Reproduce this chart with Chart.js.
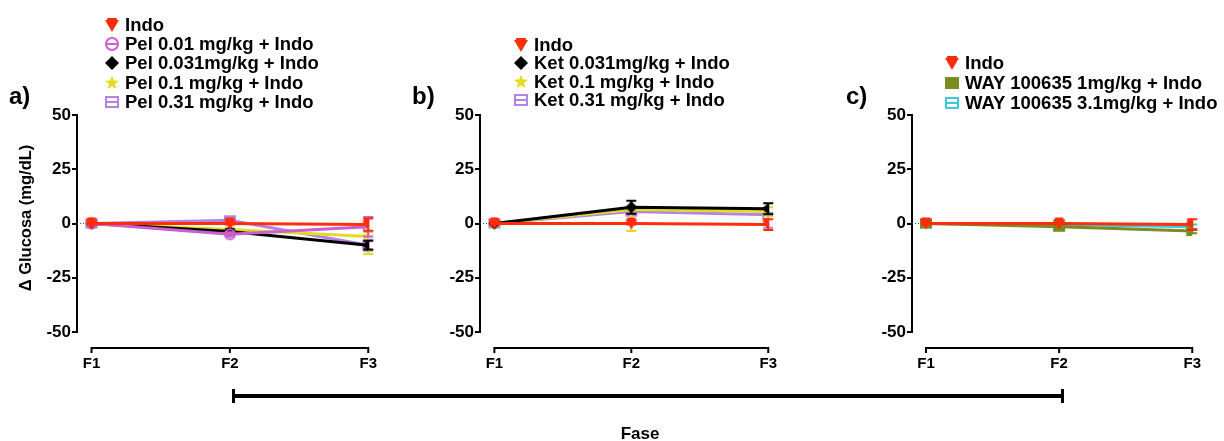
<!DOCTYPE html>
<html>
<head>
<meta charset="utf-8">
<script src="https://cdn.jsdelivr.net/npm/chart.js@4"></script>
<style>
  body { margin: 0; background: #fff; font-family: "Liberation Sans", Arial, Helvetica, sans-serif; }
  #wrap { position: relative; width: 1224px; height: 441px; overflow: hidden; }
  canvas.panel { position: absolute; top: 0; }
  .lbl { position: absolute; font-weight: bold; color: #000; white-space: nowrap; }
  .legend { position: absolute; font-weight: bold; font-size: 18.5px; color: #000; }
  .legend .row { display: flex; align-items: center; white-space: nowrap; }
  .legend canvas { margin-right: 5px; }
</style>
</head>
<body>
<div id="wrap">
  <canvas id="chartA" class="panel" width="400" height="441" style="left:0px"></canvas>
  <canvas id="chartB" class="panel" width="400" height="441" style="left:400px"></canvas>
  <canvas id="chartC" class="panel" width="400" height="441" style="left:824px"></canvas>

  <div class="lbl" style="left:9px; top:82px; font-size:24px;">a)</div>
  <div class="lbl" style="left:412px; top:82px; font-size:24px;">b)</div>
  <div class="lbl" style="left:846px; top:82px; font-size:24px;">c)</div>

  <div class="lbl" style="left:25px; top:218px; font-size:16.5px; transform: translate(-50%, -50%) rotate(-90deg);">&Delta; Glucosa (mg/dL)</div>

  <div style="position:absolute; left:233px; top:394px; width:830px; border-top:4px solid #000;"></div>
  <div style="position:absolute; left:232px; top:389px; width:3px; height:14px; background:#000;"></div>
  <div style="position:absolute; left:1061px; top:389px; width:3px; height:14px; background:#000;"></div>
  <div class="lbl" style="left:640px; top:434px; font-size:17px; font-family:'Liberation Sans Narrow', 'Liberation Sans', Arial, sans-serif; transform: translate(-50%, -50%);">Fase</div>
</div>

<script>
const phases = ['F1', 'F2', 'F3'];

// a) Pel   (errors: [below, above])
const labelsA = ['Indo', 'Pel 0.01 mg/kg + Indo', 'Pel 0.031mg/kg + Indo', 'Pel 0.1 mg/kg + Indo', 'Pel 0.31 mg/kg + Indo'];
const indoA = [0, 0, -0.5];
const indoA_err = [[0.5, 0.5], [0.5, 0.5], [2.8, 2.8]];
const pel001 = [0, -5, -1.5];
const pel001_err = [[0.8, 0.8], [1, 1], [4.5, 4.5]];
const pel0031 = [0, -3.7, -10];
const pel0031_err = [[0.5, 0.5], [1, 1], [2, 2]];
const pel01 = [0, -2.8, -6];
const pel01_err = [[1, 1], [1, 1], [8, 2]];
const pel031 = [0, 1.5, -10];
const pel031_err = [[0.8, 0.8], [1.2, 1.2], [2.5, 2.5]];

// b) Ket
const labelsB = ['Indo', 'Ket 0.031mg/kg + Indo', 'Ket 0.1 mg/kg + Indo', 'Ket 0.31 mg/kg + Indo'];
const indoB = [0, 0, -0.5];
const indoB_err = [[0.5, 0.5], [0.5, 0.5], [2.5, 2.5]];
const ket0031 = [0, 7.5, 6.8];
const ket0031_err = [[0.5, 0.5], [3, 3], [2.5, 2.5]];
const ket01 = [0, 6.5, 5.5];
const ket01_err = [[0.8, 0.8], [10, 1], [2, 2]];
const ket031 = [0, 5.5, 4];
const ket031_err = [[0.8, 0.8], [1, 1], [6, 1]];

// c) WAY 100635
const labelsC = ['Indo', 'WAY 100635 1mg/kg + Indo', 'WAY 100635 3.1mg/kg + Indo'];
const indoC = [0, 0, -0.5];
const indoC_err = [[0.5, 0.5], [0.5, 0.5], [2.5, 2.5]];
const way1 = [0, -1.5, -3.5];
const way1_err = [[0.5, 0.5], [1, 1], [1, 1]];
const way31 = [0, -0.5, -1.5];
const way31_err = [[0.5, 0.5], [1, 1], [1, 1]];

const RED = '#ff2d0a', MAG = '#c95fd0', BLK = '#000000', YEL = '#e3dc22',
      LAV = '#b583e6', OLV = '#7a8b22', CYN = '#3cc8de';

function marker(kind, color, size) {
  const c = document.createElement('canvas');
  c.width = size; c.height = size;
  const g = c.getContext('2d');
  const m = size / 2, r = size / 2 - 1;
  g.fillStyle = color; g.strokeStyle = color; g.lineWidth = 2;
  g.beginPath();
  if (kind === 'triDown') {
    g.moveTo(m - r, m - r * 0.7); g.lineTo(m + r, m - r * 0.7); g.lineTo(m, m + r);
    g.closePath(); g.fill();
    g.fillRect(m - r * 0.7, m - r, r * 1.4, 2);
  } else if (kind === 'circleLine') {
    g.arc(m, m, r - 1, 0, Math.PI * 2); g.stroke();
    g.beginPath(); g.moveTo(m - r, m); g.lineTo(m + r, m); g.stroke();
  } else if (kind === 'diamond') {
    g.moveTo(m, m - r); g.lineTo(m + r, m); g.lineTo(m, m + r); g.lineTo(m - r, m);
    g.closePath(); g.fill();
  } else if (kind === 'star') {
    for (let i = 0; i < 10; i++) {
      const a = -Math.PI / 2 + i * Math.PI / 5;
      const rr = i % 2 === 0 ? r + 0.5 : r * 0.45;
      const px = m + rr * Math.cos(a), py = m + rr * Math.sin(a);
      if (i === 0) g.moveTo(px, py); else g.lineTo(px, py);
    }
    g.closePath(); g.fill();
  } else if (kind === 'squareLine') {
    g.strokeRect(m - r + 1, m - r + 2, 2 * r - 2, 2 * r - 4);
    g.beginPath(); g.moveTo(m - r, m); g.lineTo(m + r, m); g.stroke();
  } else if (kind === 'square') {
    g.fillRect(m - r, m - r + 1, 2 * r, 2 * r - 2);
  }
  return c;
}

function series(label, values, errs, color, kind) {
  return {
    label: label,
    data: values.map((v, i) => ({ x: i, y: v })),
    errors: errs,
    borderColor: color,
    backgroundColor: color,
    borderWidth: 3,
    pointStyle: marker(kind, color, 14),
    kind: kind,
    tension: 0
  };
}

const errorBars = {
  id: 'errorBars',
  beforeDatasetsDraw(chart) {
    const ctx = chart.ctx, a = chart.chartArea, y0 = chart.scales.y.getPixelForValue(0);
    ctx.save();
    ctx.strokeStyle = '#444'; ctx.lineWidth = 1; ctx.setLineDash([1, 2]);
    ctx.beginPath(); ctx.moveTo(a.left, y0); ctx.lineTo(a.right, y0); ctx.stroke();
    ctx.restore();
  },
  beforeDatasetDraw(chart, args) {
    const ds = chart.data.datasets[args.index];
    if (!ds.errors) return;
    const ctx = chart.ctx, xs = chart.scales.x, ys = chart.scales.y;
    ctx.save();
    ctx.strokeStyle = ds.borderColor; ctx.lineWidth = 2;
    ds.data.forEach((p, i) => {
      const e = ds.errors[i];
      if (!e) return;
      const px = xs.getPixelForValue(p.x);
      const y1 = ys.getPixelForValue(p.y + e[1]), y2 = ys.getPixelForValue(p.y - e[0]);
      ctx.beginPath();
      ctx.moveTo(px, y1); ctx.lineTo(px, y2);
      ctx.moveTo(px - 5, y1); ctx.lineTo(px + 5, y1);
      ctx.moveTo(px - 5, y2); ctx.lineTo(px + 5, y2);
      ctx.stroke();
    });
    ctx.restore();
  },
  afterDraw(chart) {
    // offset x axis line from F1 to F3
    const ctx = chart.ctx, xs = chart.scales.x;
    const yy = chart.chartArea.bottom + 16;
    const x1 = xs.getPixelForValue(0), x3 = xs.getPixelForValue(2);
    ctx.save();
    ctx.strokeStyle = '#000'; ctx.lineWidth = 2;
    ctx.beginPath(); ctx.moveTo(x1, yy); ctx.lineTo(x3, yy);
    [0, 1, 2].forEach(v => {
      const px = xs.getPixelForValue(v);
      ctx.moveTo(px, yy - 1); ctx.lineTo(px, yy + 5);
    });
    ctx.stroke();
    ctx.restore();
  }
};

const tickFont = { family: '"Liberation Sans", Arial, sans-serif', size: 17, weight: 'bold' };

function makePanel(id, datasets, padLeft, padRight) {
  const ctx = document.getElementById(id).getContext('2d');
  return new Chart(ctx, {
    type: 'line',
    data: { datasets: datasets },
    options: {
      responsive: false,
      animation: false,
      events: [],
      layout: { padding: { top: 115, left: padLeft, right: padRight, bottom: 64 } },
      plugins: { legend: { display: false }, tooltip: { enabled: false } },
      elements: { point: { radius: 6 } },
      scales: {
        x: {
          type: 'linear',
          min: -0.105,
          max: 2,
          afterFit: s => { s.height = 45; },
          afterBuildTicks: s => { s.ticks = [0, 1, 2].map(v => ({ value: v })); },
          grid: { display: false, drawTicks: false },
          border: { display: false },
          ticks: {
            padding: 23,
            color: '#000',
            font: { family: '"Liberation Sans", Arial, sans-serif', size: 15, weight: 'bold' },
            maxRotation: 0,
            callback: v => phases[v]
          }
        },
        y: {
          min: -50,
          max: 50,
          afterFit: s => { s.width = 37; },
          grid: { display: true, drawOnChartArea: false, drawTicks: true, tickLength: 5, color: '#000', lineWidth: 2 },
          border: { display: true, color: '#000', width: 2 },
          ticks: { stepSize: 25, padding: 1, color: '#000', font: tickFont }
        }
      }
    },
    plugins: [errorBars]
  });
}

const dsA = [
  series(labelsA[0], indoA, indoA_err, RED, 'triDown'),
  series(labelsA[1], pel001, pel001_err, MAG, 'circleLine'),
  series(labelsA[2], pel0031, pel0031_err, BLK, 'diamond'),
  series(labelsA[3], pel01, pel01_err, YEL, 'star'),
  series(labelsA[4], pel031, pel031_err, LAV, 'squareLine')
];
const dsB = [
  series(labelsB[0], indoB, indoB_err, RED, 'triDown'),
  series(labelsB[1], ket0031, ket0031_err, BLK, 'diamond'),
  series(labelsB[2], ket01, ket01_err, YEL, 'star'),
  series(labelsB[3], ket031, ket031_err, LAV, 'squareLine')
];
const dsC = [
  series(labelsC[0], indoC, indoC_err, RED, 'triDown'),
  series(labelsC[1], way1, way1_err, OLV, 'square'),
  series(labelsC[2], way31, way31_err, CYN, 'squareLine')
];

makePanel('chartA', dsA, 40, 22);
makePanel('chartB', dsB, 43, 18);
makePanel('chartC', dsC, 51, 10);

function addLegend(datasets, left, top, lh) {
  const box = document.createElement('div');
  box.className = 'legend';
  box.style.left = left + 'px';
  box.style.top = top + 'px';
  datasets.forEach(ds => {
    const row = document.createElement('div');
    row.className = 'row';
    row.style.height = lh + 'px';
    row.appendChild(marker(ds.kind, ds.borderColor, 16));
    const t = document.createElement('span');
    t.textContent = ds.label;
    row.appendChild(t);
    box.appendChild(row);
  });
  document.getElementById('wrap').appendChild(box);
}

addLegend(dsA, 104, 15.5, 19.2);
addLegend(dsB, 513, 35.8, 18.4);
addLegend(dsC, 944, 53, 20);
</script>
</body>
</html>
